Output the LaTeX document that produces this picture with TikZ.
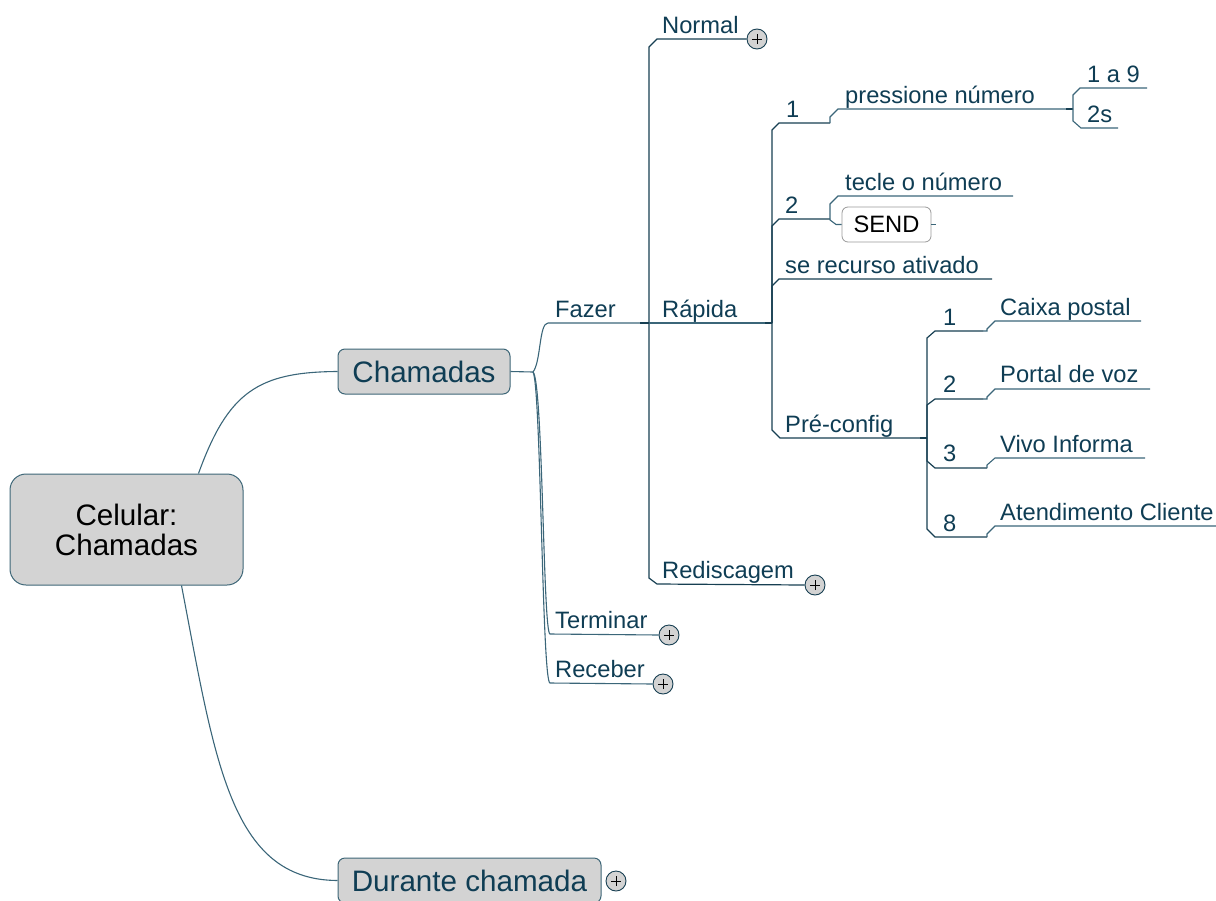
\documentclass[tikz,border=0pt]{standalone}
\usepackage{fontspec}
\setmainfont{Liberation Sans}
\definecolor{txtc}{HTML}{0F3D54}
\definecolor{linec}{HTML}{3B6679}
\definecolor{trunkc}{HTML}{173F52}
\definecolor{boxfill}{HTML}{D3D3D3}
\definecolor{boxdraw}{HTML}{3D6677}
\newcommand\lbfont{\fontsize{23.7}{27}\selectfont}
\newcommand\bigfont{\fontsize{29.6}{30}\selectfont}
\begin{document}
\begin{tikzpicture}[x=1pt,y=-1pt,
  lbl/.style={text=txtc, font=\lbfont, inner sep=0pt, anchor=base west},
  ln/.style={draw=linec, line width=1.1pt},
  tk/.style={draw=trunkc, line width=1.2pt},
  tick/.style={draw=trunkc, line width=2pt},
  topicbox/.style={draw=boxdraw, fill=boxfill, line width=1pt, rounded corners=7pt,
    text=txtc, font=\bigfont, inner sep=0pt},
  plus/.style={circle, draw=trunkc, fill=boxfill, line width=0.9pt, minimum size=20pt, inner sep=0pt,
    path picture={\draw[black, line width=0.8pt]
      ([xshift=-5pt]path picture bounding box.center) -- ([xshift=5pt]path picture bounding box.center)
      ([yshift=-5pt]path picture bounding box.center) -- ([yshift=5pt]path picture bounding box.center);}}
]
\useasboundingbox (0,0) rectangle (1216,900);

% central topic and main topics
\node[topicbox, minimum width=233pt, minimum height=111pt, rounded corners=16pt,
  text=black, align=center] (root) at (126.5,529.5) {Celular:\\Chamadas};
\node[topicbox, minimum width=172pt, minimum height=45pt] (cham) at (424,371.5) {Chamadas};
\node[topicbox, minimum width=263pt, minimum height=45pt] (dur) at (469.5,880.5) {Durante chamada};
\node[plus] (pdur) at (616,881) {};

\draw[ln] ([xshift=72pt]root.north) .. controls (228,392) and (258,372) .. (cham.west);
\draw[ln] ([xshift=55pt]root.south) .. controls (215,760) and (230,880) .. (dur.west);

% Chamadas branches
\coordinate (cj) at (533,372);
\coordinate (fz0) at (548,323);
\coordinate (fz1) at (649,323);
\coordinate (te0) at (550,634);
\coordinate (re0) at (550,683);
\node[plus] (pter) at (669,635) {};
\node[plus] (prec) at (663,684) {};
\draw[ln] (cham.east) -- (cj);
\draw[ln] (cj) .. controls (541,362) and (539,323) .. (fz0) -- (fz1);
\draw[ln] (cj) .. controls (543,380) and (543,634) .. (te0) -- (pter.west);
\draw[ln] (cj) .. controls (541,385) and (542,683) .. (re0) -- (prec.west);
\node[lbl] (lfaz) at (555,317) {Fazer};
\node[lbl] (lter) at (555,628) {Terminar};
\node[lbl] (lrec) at (555,677) {Receber};

% Fazer children
\coordinate (rp1) at (772,323);
\node[plus] (pnor) at (757,39) {};
\node[plus] (pred) at (815,585) {};
\draw[tk] (fz1) -- ++(0,-276) -- ++(8,-8) -- (pnor.west);
\draw[tk] (fz1) -- ++(0,255) -- ++(8,6) -- (pred.west);
\draw[ln] (fz1) -- (rp1);
\draw[tick] (640,323) -- (fz1);
\node[lbl] (lnor) at (662,33) {Normal};
\node[lbl] (lrap) at (662,317) {Rápida};
\node[lbl] (lred) at (662,578) {Rediscagem};

% Rápida children
\coordinate (n1r) at (830,123);
\coordinate (pn1) at (1073,109);
\coordinate (a19) at (1147,88);
\coordinate (s2e) at (1118,128);
\coordinate (n2r) at (830,219);
\coordinate (tec1) at (1013,196);
\coordinate (sr1) at (992,279);
\coordinate (pc1) at (927,438);
\node[draw=gray!80, fill=white, rounded corners=6pt, line width=0.8pt, minimum width=89pt,
  minimum height=35pt, inner sep=0pt, font=\lbfont, text=black] (send) at (886.5,224.5) {SEND};
\draw[tk] (rp1) -- ++(0,-193) -- ++(7,-7) -- (n1r);
\draw[ln] (n1r) -- ++(0,-6) -- ++(8,-8) -- (pn1);
\draw[tick] (1066,109) -- (pn1);
\draw[ln] (pn1) -- ++(0,-14) -- ++(7,-7) -- (a19);
\draw[ln] (pn1) -- ++(0,12) -- ++(8,7) -- (s2e);
\draw[tk] (rp1) -- ++(0,-97) -- ++(7,-7) -- (n2r);
\draw[ln] (n2r) -- ++(0,-15) -- ++(8,-8) -- (tec1);
\draw[ln] (n2r) -- ++(0,1) -- ++(6,4.5) -- (send.west);
\draw[ln] (send.east) -- ++(5,0);
\draw[tk] (rp1) -- ++(0,-37) -- ++(7,-7) -- (sr1);
\draw[tk] (rp1) -- ++(0,107) -- ++(8,8) -- (pc1);
\draw[tick] (765,323) -- (rp1);
\node[lbl] (l1) at (786,117) {1};
\node[lbl] (lpn) at (845,103) {pressione número};
\node[lbl] (l19) at (1087,82) {1 a 9};
\node[lbl] (l2s) at (1087,122) {2s};
\node[lbl] (l2) at (785,213) {2};
\node[lbl] (ltec) at (845,190) {tecle o número};
\node[lbl] (lsr) at (785,273) {se recurso ativado};
\node[lbl] (lpc) at (785,432) {Pré-config};

% Pré-config children
\coordinate (c1r) at (983,331);
\coordinate (cp1) at (1141,321);
\coordinate (c2r) at (983,399);
\coordinate (pv1) at (1150,389);
\coordinate (c3r) at (987,468);
\coordinate (vi1) at (1145,458);
\coordinate (c8r) at (987,537);
\coordinate (ac1) at (1216,526);
\draw[tick] (920,438) -- (pc1);
\draw[tk] (pc1) -- ++(0,-100) -- ++(8,-7) -- (c1r);
\draw[ln] (c1r) -- ++(4,0) -- ++(0,-2) -- ++(8,-8) -- (cp1);
\draw[tk] (pc1) -- ++(0,-33) -- ++(8,-6) -- (c2r);
\draw[ln] (c2r) -- ++(4,0) -- ++(0,-2) -- ++(8,-8) -- (pv1);
\draw[tk] (pc1) -- ++(0,23) -- ++(8,7) -- (c3r);
\draw[ln] (c3r) -- ++(0,-3) -- ++(8,-7) -- (vi1);
\draw[tk] (pc1) -- ++(0,91) -- ++(8,8) -- (c8r);
\draw[ln] (c8r) -- ++(0,-3) -- ++(8,-8) -- (ac1);
\node[lbl] (lc1) at (943,325) {1};
\node[lbl] (lcp) at (1000,315) {Caixa postal};
\node[lbl] (lc2) at (943,392) {2};
\node[lbl] (lpv) at (1000,382) {Portal de voz};
\node[lbl] (lc3) at (943,461) {3};
\node[lbl] (lvi) at (1000,452) {Vivo Informa};
\node[lbl] (lc8) at (943,531) {8};
\node[lbl] (lac) at (1000,520) {Atendimento Cliente};
\end{tikzpicture}
\end{document}
